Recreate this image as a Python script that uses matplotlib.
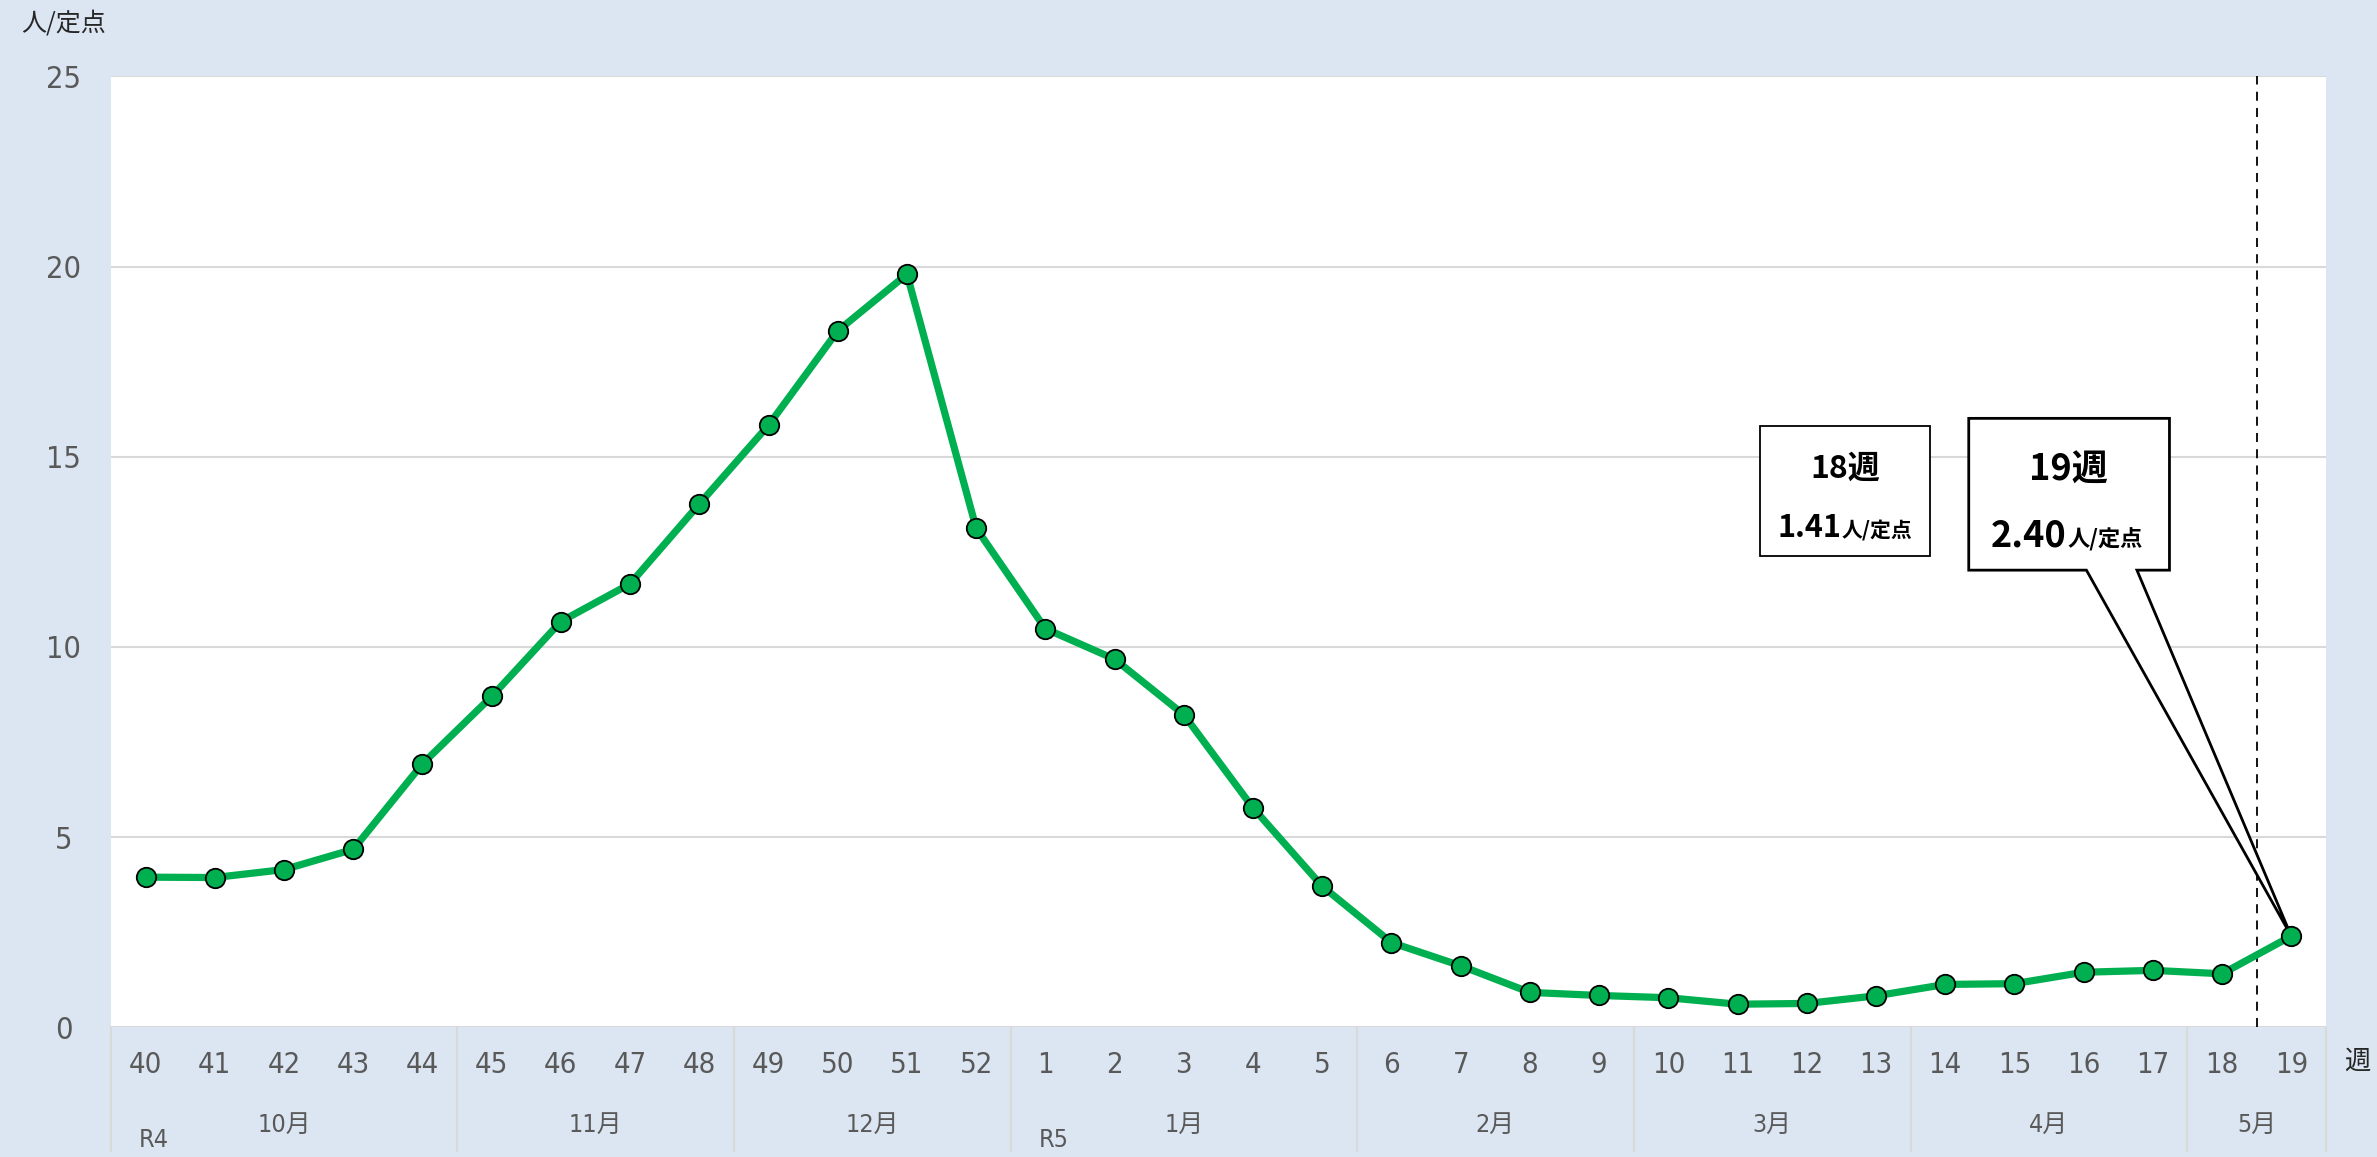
import matplotlib
matplotlib.use("Agg")
import matplotlib.pyplot as plt
from matplotlib import font_manager
from matplotlib.patches import Polygon, Rectangle

# データ（定点当たり報告数）
weeks = [40, 41, 42, 43, 44, 45, 46, 47, 48, 49, 50, 51, 52,
         1, 2, 3, 4, 5, 6, 7, 8, 9, 10, 11, 12, 13, 14, 15, 16, 17, 18, 19]
values = [3.95, 3.94, 4.15, 4.68, 6.93, 8.70, 10.67, 11.66, 13.76, 15.83, 18.31, 19.80, 13.12,
          10.48, 9.68, 8.22, 5.77, 3.71, 2.23, 1.62, 0.92, 0.84, 0.78, 0.61, 0.63, 0.83,
          1.13, 1.15, 1.45, 1.50, 1.41, 2.40]
months = ["10月", "11月", "12月", "1月", "2月", "3月", "4月", "5月"]
month_sizes = [5, 4, 4, 5, 4, 4, 4, 2]
eras = ["R4", "R5"]
era_start = [0, 13]
yticks = [0, 5, 10, 15, 20, 25]

# 吹き出し
callout_prev = ("18週", "1.41", "人/定点")
callout_last = ("19週", "2.40", "人/定点")

BG = "#DCE6F2"
GRID = "#D9D9D9"
GREEN = "#00B050"
TXT = "#595959"

names = {f.name for f in font_manager.fontManager.ttflist}
narrow = "Liberation Sans Narrow" if "Liberation Sans Narrow" in names else "DejaVu Sans"
fam = [narrow, "Noto Sans CJK JP"]
jp = ["Noto Sans CJK JP", "DejaVu Sans"]
axis_font = dict(family=fam, stretch="condensed", color=TXT)

fig = plt.figure(figsize=(23.77, 11.57), dpi=100, facecolor=BG)
ax = fig.add_axes([0.0467, 0.112, 0.9318, 0.822])
ax.set_facecolor("white")

x = list(range(len(weeks)))
ax.plot(x, values, color=GREEN, lw=5.2, marker="o", ms=14,
        mfc=GREEN, mec="black", mew=1.3, zorder=3, clip_on=False)

ax.set_xlim(-0.5, len(weeks) - 0.5)
ax.set_ylim(0, 25)
ax.set_yticks(yticks)
ax.set_yticklabels([str(v) for v in yticks], fontsize=22, ha="center", **axis_font)
ax.tick_params(axis="y", length=0, pad=34)
ax.set_xticks(x)
ax.set_xticklabels([str(w) for w in weeks], fontsize=21, **axis_font)
ax.tick_params(axis="x", length=0, pad=17)
ax.grid(axis="y", color=GRID, lw=1.5, zorder=0)
for s in ax.spines.values():
    s.set_visible(False)

# 最新週の区切り（破線）
ax.axvline(len(weeks) - 1.5, color="black", lw=1.3, ls=(0, (5, 4)), zorder=2)

# 月の区切りとラベル
tr = ax.get_xaxis_transform()
start = 0
bounds = [-0.5]
for m, n in zip(months, month_sizes):
    ax.text(start + (n - 1) / 2, -0.103, m, transform=tr, ha="center", va="center",
            fontsize=18, **axis_font)
    start += n
    bounds.append(start - 0.5)
ax.vlines(bounds, -0.131, 0, transform=tr, color=GRID, lw=1.5, clip_on=False)
for e, i in zip(eras, era_start):
    ax.text(i + 0.12, -0.118, e, transform=tr, ha="center", va="center",
            fontsize=18, **axis_font)

fig.text(0.0088, 0.980, "人/定点", family=jp, fontsize=18, color="#262626", va="center")
fig.text(0.9916, 0.083, "週", family=jp, fontsize=19, color="#262626", va="center", ha="center")

# 18週の吹き出し
ax.add_patch(Rectangle((23.33, 12.40), 2.45, 3.41, facecolor="white", edgecolor="black",
                       lw=1.3, zorder=4))
ax.text(24.56, 14.69, callout_prev[0], ha="center", va="center", family=jp,
        fontsize=23, weight="bold", zorder=5)
ax.text(24.50, 12.9, callout_prev[1], ha="right", va="baseline", family=jp,
        fontsize=22, weight="bold", zorder=5)
ax.text(24.50, 12.9, callout_prev[2], ha="left", va="baseline", family=jp,
        fontsize=15, weight="bold", zorder=5)

# 19週の吹き出し（最新値を指す）
tip = (x[-1], values[-1])
verts = [(26.34, 16.01), (29.24, 16.01), (29.24, 12.02), (28.77, 12.02), tip,
         (28.04, 12.02), (26.34, 12.02)]
ax.add_patch(Polygon(verts, closed=True, facecolor="white", edgecolor="black",
                     lw=2.0, zorder=2.5, clip_on=False))
ax.text(27.78, 14.64, callout_last[0], ha="center", va="center", family=jp,
        fontsize=26, weight="bold", zorder=5)
ax.text(27.76, 12.63, callout_last[1], ha="right", va="baseline", family=jp,
        fontsize=26, weight="bold", zorder=5)
ax.text(27.76, 12.63, callout_last[2], ha="left", va="baseline", family=jp,
        fontsize=16, weight="bold", zorder=5)

fig.savefig("out.png", dpi=100, facecolor=BG)
